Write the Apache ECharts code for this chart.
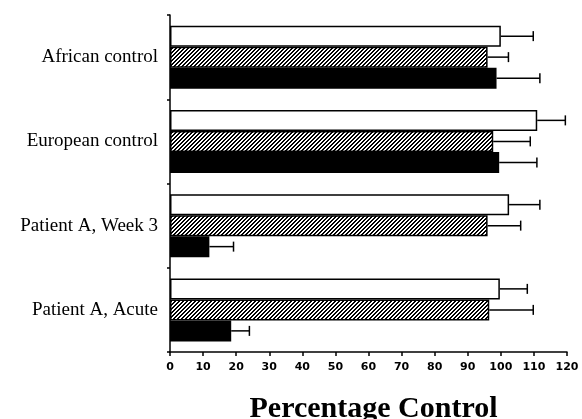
<!DOCTYPE html>
<html>
<head>
<meta charset="utf-8">
<script src="https://cdn.jsdelivr.net/npm/echarts@6/dist/echarts.min.js"></script>
<style>html,body{margin:0;padding:0;background:#fff;}#chart{width:582px;height:419px;}</style>
</head>
<body>
<div id="chart"></div>
<script>
const categories = ['African control', 'European control', 'Patient A, Week 3', 'Patient A, Acute'];
const openValues = [100, 111, 102.5, 99.7];
const openErr = [109.8, 119.5, 111.8, 108];
const hatchValues = [96, 97.7, 96, 96.5];
const hatchErr = [102.3, 108.9, 106, 109.8];
const solidValues = [98.7, 99.5, 11.9, 18.5];
const solidErr = [111.8, 110.9, 19.2, 24];
const xMin = 0, xMax = 120, xStep = 10;

function hatchPattern() {
  const c = document.createElement('canvas');
  c.width = 4; c.height = 4;
  const ctx = c.getContext('2d');
  ctx.fillStyle = '#fff';
  ctx.fillRect(0, 0, 4, 4);
  ctx.fillStyle = '#000';
  for (let x = 0; x < 4; x++) {
    const y = 3 - x;
    ctx.fillRect(x, y, 1, 1);
    ctx.fillRect((x + 1) % 4, y, 1, 1);
  }
  return c;
}

const BW = 21;
function errSeries(vals, errs, offset) {
  return {
    type: 'custom',
    data: categories.map((c, i) => [i, vals[i], errs[i]]),
    encode: { y: 0, x: [1, 2] },
    z: 5,
    renderItem: function (params, api) {
      const cat = api.value(0);
      const p0 = api.coord([api.value(1), cat]);
      const p1 = api.coord([api.value(2), cat]);
      const y = p0[1] + offset;
      return {
        type: 'group',
        children: [
          { type: 'line', shape: { x1: p0[0], y1: y, x2: p1[0], y2: y }, style: { stroke: '#000', lineWidth: 1.5 } },
          { type: 'line', shape: { x1: p1[0], y1: y - 5, x2: p1[0], y2: y + 5 }, style: { stroke: '#000', lineWidth: 1.5 } }
        ]
      };
    }
  };
}

const chart = echarts.init(document.getElementById('chart'));
const barBase = { type: 'bar', barWidth: BW, barGap: '0%' };
chart.setOption({
  animation: false,
  backgroundColor: '#fff',
  grid: { left: 170, right: 15, top: 15, bottom: 67, containLabel: false, outerBoundsMode: 'none' },
  xAxis: {
    type: 'value', min: xMin, max: xMax, interval: xStep,
    axisLine: { show: true, lineStyle: { color: '#000', width: 1.5 } },
    axisTick: { show: true, length: 4, lineStyle: { color: '#000', width: 1.5 } },
    axisLabel: { color: '#000', fontFamily: 'DejaVu Sans', fontWeight: 'bold', fontSize: 11, margin: 10 },
    splitLine: { show: false },
    name: 'Percentage Control', nameLocation: 'middle', nameGap: 42,
    nameTextStyle: { fontFamily: 'Liberation Serif', fontWeight: 'bold', fontSize: 30, color: '#000', padding: [0, 0, 0, 10] }
  },
  yAxis: {
    type: 'category', data: categories, inverse: true,
    axisLine: { show: true, lineStyle: { color: '#000', width: 1.5 } },
    axisTick: { show: true, length: 3, lineStyle: { color: '#000', width: 1.5 } },
    axisLabel: { color: '#000', fontFamily: 'Liberation Serif', fontSize: 19, margin: 12 },
    splitLine: { show: false }
  },
  series: [
    Object.assign({}, barBase, { data: openValues, itemStyle: { color: '#fff', borderColor: '#000', borderWidth: 1.5 } }),
    Object.assign({}, barBase, { data: hatchValues, itemStyle: { color: { image: hatchPattern(), repeat: 'repeat' }, borderColor: '#000', borderWidth: 1.5 } }),
    Object.assign({}, barBase, { data: solidValues, itemStyle: { color: '#000', borderColor: '#000', borderWidth: 1.5 } }),
    errSeries(openValues, openErr, -BW),
    errSeries(hatchValues, hatchErr, 0),
    errSeries(solidValues, solidErr, BW)
  ]
});
</script>
</body>
</html>
